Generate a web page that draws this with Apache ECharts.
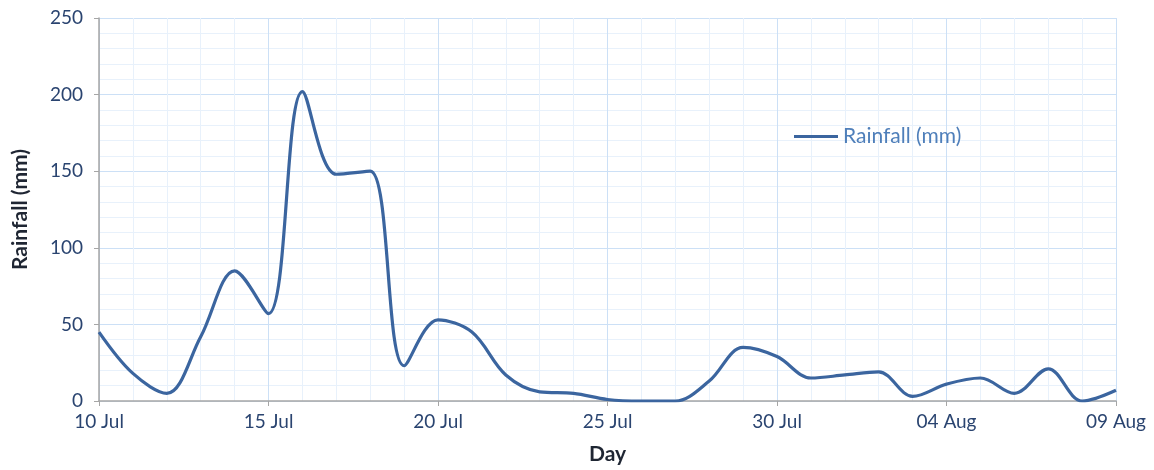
<!DOCTYPE html>
<html>
<head>
<meta charset="utf-8">
<script src="https://cdn.jsdelivr.net/npm/echarts@6/dist/echarts.min.js"></script>
<style>
  html, body { margin: 0; padding: 0; background: #fff; }
  #chart { width: 1154px; height: 470px; }
</style>
</head>
<body>
<div id="chart"></div>
<script>
// Daily rainfall, 10 Jul to 09 Aug
const days = [
  '10 Jul', '11 Jul', '12 Jul', '13 Jul', '14 Jul', '15 Jul', '16 Jul', '17 Jul',
  '18 Jul', '19 Jul', '20 Jul', '21 Jul', '22 Jul', '23 Jul', '24 Jul', '25 Jul',
  '26 Jul', '27 Jul', '28 Jul', '29 Jul', '30 Jul', '31 Jul', '01 Aug', '02 Aug',
  '03 Aug', '04 Aug', '05 Aug', '06 Aug', '07 Aug', '08 Aug', '09 Aug'
];
const rainfall = [
  45, 18, 5, 42, 85, 57, 202, 148,
  150, 23, 53, 45, 17, 6, 5, 1,
  0, 0, 13, 35, 29, 15, 17, 19,
  3, 11, 15, 5, 21, 0, 7
];
const yTicks = [0, 50, 100, 150, 200, 250];

const points = rainfall.map((v, i) => [i, v]);

const font = 'Lato, "Open Sans", sans-serif';
const chart = echarts.init(document.getElementById('chart'));
chart.setOption({
  animation: false,
  grid: { left: 99, right: 38, top: 18, bottom: 68 },
  legend: {
    data: ['Rainfall (mm)'],
    left: 789, top: 121,
    itemWidth: 44, itemHeight: 3, itemGap: 4,
    icon: 'rect',
    textStyle: { color: '#4f7fba', fontSize: 21, fontFamily: font }
  },
  xAxis: {
    type: 'value',
    min: 0, max: days.length - 1, interval: 5,
    name: 'Day', nameLocation: 'middle', nameGap: 43,
    nameTextStyle: { color: '#1f2633', fontSize: 21, fontWeight: 'bold', fontFamily: font },
    axisLine: { show: true, lineStyle: { color: '#a6a6a6', width: 1.5 } },
    axisTick: { show: true, length: 5, lineStyle: { color: '#a6a6a6' } },
    axisLabel: {
      color: '#2a4470', fontSize: 19, fontFamily: font, margin: 11,
      formatter: v => days[v] || ''
    },
    splitLine: { show: true, lineStyle: { color: '#cce0f6', width: 1 } },
    minorTick: { show: false, splitNumber: 5 },
    minorSplitLine: { show: true, lineStyle: { color: '#e8f1fb', width: 1 } }
  },
  yAxis: {
    type: 'value',
    min: 0, max: 250, interval: 50,
    name: 'Rainfall (mm)', nameLocation: 'middle', nameGap: 68, nameRotate: 90,
    nameTextStyle: { color: '#1f2633', fontSize: 21, fontWeight: 'bold', fontFamily: font },
    axisLine: { show: true, lineStyle: { color: '#a6a6a6', width: 1.5 } },
    axisTick: { show: true, length: 5, lineStyle: { color: '#a6a6a6' } },
    axisLabel: {
      color: '#2a4470', fontSize: 19, fontFamily: font, margin: 16,
      formatter: v => (yTicks.includes(v) ? String(v) : '')
    },
    splitLine: { show: true, lineStyle: { color: '#cce0f6', width: 1 } },
    minorTick: { show: false, splitNumber: 5 },
    minorSplitLine: { show: true, lineStyle: { color: '#e8f1fb', width: 1 } }
  },
  series: [{
    name: 'Rainfall (mm)',
    type: 'line',
    data: points,
    smooth: 0.35,
    showSymbol: false,
    lineStyle: { color: '#3b659f', width: 3.2 },
    itemStyle: { color: '#3b659f' }
  }]
});
</script>
</body>
</html>
